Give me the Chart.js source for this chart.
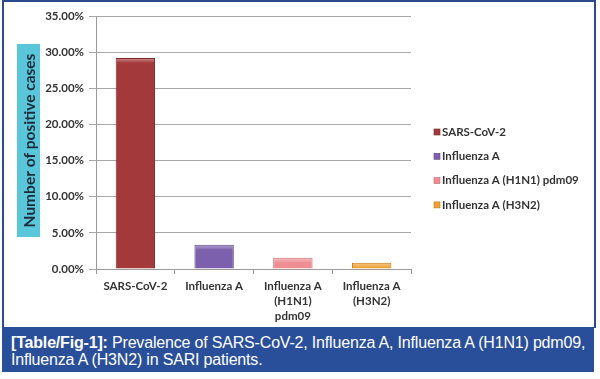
<!DOCTYPE html>
<html>
<head>
<meta charset="utf-8">
<script src="https://cdn.jsdelivr.net/npm/chart.js@4/dist/chart.umd.min.js"></script>
<style>
  html, body { margin: 0; padding: 0; background: #fff; }
  body { width: 600px; height: 379px; position: relative; overflow: hidden; }
  #frame { position: absolute; left: 2px; top: 0px; width: 590px; height: 326px; border: 2px solid #2c4a8c; border-bottom: none; box-sizing: content-box; }
  #wrap { position: absolute; left: 0; top: 0; width: 600px; height: 326px; }
  #caption { position: absolute; left: 2px; top: 327px; width: 592px; height: 45px; background: #2a4f9a; color: #fff;
    font-family: "Liberation Sans", Arial, sans-serif; font-size: 16px; line-height: 17px; box-sizing: border-box; padding: 7px 0 0 9px; letter-spacing: -0.18px; }
  #caption b { font-weight: bold; }
</style>
</head>
<body>
<div id="wrap"><canvas id="c" width="600" height="326"></canvas></div>
<div id="frame"></div>
<div id="caption"><b>[Table/Fig-1]:</b> Prevalence of SARS-CoV-2, Influenza A, Influenza A (H1N1) pdm09,<br>Influenza A (H3N2) in SARI patients.</div>
<script>
const categories = ['SARS-CoV-2', 'Influenza A', 'Influenza A (H1N1) pdm09', 'Influenza A (H3N2)'];
const tickLabels = ['SARS-CoV-2', 'Influenza A', ['Influenza A', '(H1N1)', 'pdm09'], ['Influenza A', '(H3N2)']];
const prevalence = [29.2, 3.35, 1.55, 0.85];
const yTicks = [0, 5, 10, 15, 20, 25, 30, 35];
const barColors = ['#a3393a', '#7d60ad', '#ee8e92', '#eea132'];
const edgeColors = ['#7a2526', '#5a4585', '#c96c70', '#c47d18'];
const yTitle = 'Number of positive cases';

function shade(hex, f) {
  const n = parseInt(hex.slice(1), 16);
  let r = (n >> 16) & 255, g = (n >> 8) & 255, b = n & 255;
  const m = v => Math.max(0, Math.min(255, Math.round(f >= 0 ? v + (255 - v) * f : v * (1 + f))));
  return `rgb(${m(r)},${m(g)},${m(b)})`;
}

const decor = {
  id: 'decor',
  beforeDraw(chart) {
    const ctx = chart.ctx;
    ctx.save();
    ctx.fillStyle = '#5ac6da';
    ctx.fillRect(17, 44, 23, 193);
    ctx.translate(29, 140.5);
    ctx.rotate(-Math.PI / 2);
    ctx.fillStyle = '#1c2b3a';
    ctx.font = 'bold 15.5px Lato, "Open Sans", sans-serif';
    ctx.textAlign = 'center';
    ctx.textBaseline = 'middle';
    ctx.fillText(yTitle, 0, 1);
    ctx.restore();
  },
  afterDatasetsDraw(chart) {
    const ctx = chart.ctx;
    const meta = chart.getDatasetMeta(0);
    ctx.save();
    meta.data.forEach((bar) => {
      const w = bar.width, left = bar.x - w / 2 + 1;
      const g = ctx.createLinearGradient(0, bar.y, 0, bar.y + 5);
      g.addColorStop(0, 'rgba(255,255,255,0.45)');
      g.addColorStop(1, 'rgba(255,255,255,0)');
      ctx.fillStyle = g;
      ctx.fillRect(left, bar.y + 1, w - 2, Math.min(5, bar.base - bar.y - 1));
    });
    ctx.restore();
  },
  afterDraw(chart) {
    const ctx = chart.ctx;
    const ca = chart.chartArea;
    ctx.save();
    ctx.font = 'bold 11.5px Lato, "Open Sans", sans-serif';
    ctx.textBaseline = 'middle';
    const x0 = ca.right + 23;
    const y0 = 132, dy = 24.3;
    categories.forEach((name, i) => {
      const y = y0 + i * dy;
      ctx.fillStyle = barColors[i];
      ctx.fillRect(x0, y - 3, 6, 6);
      ctx.strokeStyle = edgeColors[i];
      ctx.lineWidth = 0.6;
      ctx.strokeRect(x0, y - 3, 6, 6);
      ctx.fillStyle = '#333333';
      ctx.fillText(name, x0 + 8, y);
    });
    ctx.restore();
  }
};

new Chart(document.getElementById('c'), {
  type: 'bar',
  data: {
    labels: tickLabels,
    datasets: [{
      data: prevalence,
      backgroundColor: (ctx) => {
        const i = ctx.dataIndex;
        const el = ctx.element;
        const chart = ctx.chart;
        if (!el || !chart.chartArea || el.width === undefined) return barColors[i];
        const w = el.width;
        const left = el.x - w / 2;
        const g = chart.ctx.createLinearGradient(left, 0, left + w, 0);
        g.addColorStop(0, shade(barColors[i], -0.12));
        g.addColorStop(0.15, barColors[i]);
        g.addColorStop(0.85, barColors[i]);
        g.addColorStop(1, shade(barColors[i], -0.15));
        return g;
      },
      borderColor: edgeColors,
      borderWidth: 1,
      categoryPercentage: 1.0,
      barPercentage: 0.5
    }]
  },
  options: {
    responsive: false,
    animation: false,
    layout: { padding: { left: 0, right: 189, top: 16, bottom: 0 } },
    plugins: { legend: { display: false }, tooltip: { enabled: false } },
    scales: {
      x: {
        offset: true,
        grid: { display: true, drawOnChartArea: false, offset: true, tickLength: 5, color: '#9a9a9a' },
        border: { color: '#9a9a9a', width: 1 },
        ticks: {
          color: '#333333',
          font: { family: 'Lato, "Open Sans", sans-serif', size: 11.5, weight: 'bold', lineHeight: 1.3 },
          padding: 5,
          maxRotation: 0,
          autoSkip: false
        },
        afterFit(scale) { scale.height = 57; }
      },
      y: {
        min: 0, max: 35,
        afterBuildTicks(scale) { scale.ticks = yTicks.map(v => ({ value: v })); },
        grid: { color: '#a8a8a8', tickLength: 7, lineWidth: 1 },
        border: { color: '#9a9a9a', width: 1 },
        ticks: {
          color: '#333333',
          font: { family: 'Lato, "Open Sans", sans-serif', size: 11.5, weight: 'bold' },
          padding: 5,
          callback: (v) => v.toFixed(2) + '%'
        },
        afterFit(scale) { scale.width = 96; }
      }
    }
  },
  plugins: [decor]
});
</script>
</body>
</html>
